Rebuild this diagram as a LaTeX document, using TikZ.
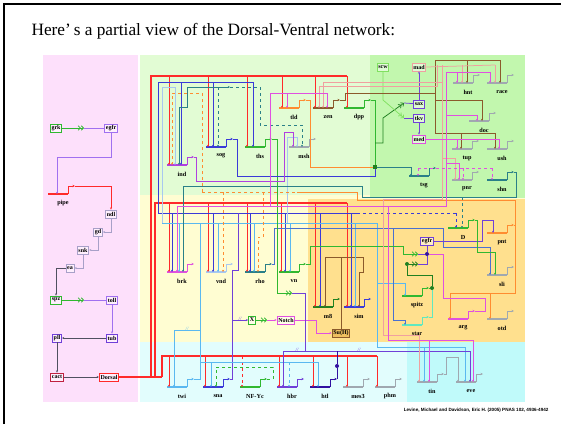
\documentclass[tikz,border=0pt]{standalone}
\usepackage{fontspec}
\setmainfont{Liberation Serif}
\newfontfamily\creditfont{Liberation Sans}
\usetikzlibrary{arrows.meta,calc}

\definecolor{bgpink}{HTML}{FDE0FB}
\definecolor{bglgreen}{HTML}{E2FCD4}
\definecolor{bgbgreen}{HTML}{C2F7AE}
\definecolor{bgyellow}{HTML}{FFFDD2}
\definecolor{bgorange}{HTML}{FFE08E}
\definecolor{bgcyan}{HTML}{E2FDFD}
\definecolor{bgdcyan}{HTML}{C0FAFA}
\definecolor{dvred}{HTML}{FF2A2A}
\definecolor{dvcrim}{HTML}{C02040}
\definecolor{dvblue}{HTML}{3A3AD8}
\definecolor{dvlblue}{HTML}{5AB8F0}
\definecolor{dvpale}{HTML}{A8C8F0}
\definecolor{dvteal}{HTML}{2A8088}
\definecolor{dvsteel}{HTML}{4A70D0}
\definecolor{dvgreen}{HTML}{30B830}
\definecolor{dvdgreen}{HTML}{208020}
\definecolor{dvlgreen}{HTML}{80E060}
\definecolor{dvmag}{HTML}{E050E0}
\definecolor{dvviol}{HTML}{B040E0}
\definecolor{dvpurp}{HTML}{7040D8}
\definecolor{dvtoll}{HTML}{A070F0}
\definecolor{dvorange}{HTML}{FF8C30}
\definecolor{dvbrown}{HTML}{8B5A2B}
\definecolor{dvgrey}{HTML}{A0A8B0}
\definecolor{dvlav}{HTML}{A8A0C8}
\definecolor{dvdark}{HTML}{505060}
\definecolor{dvsalmon}{HTML}{F0A0A0}
\definecolor{dvaqua}{HTML}{60E8C0}
\definecolor{dvnavy}{HTML}{3010A0}
\definecolor{dvsuh}{HTML}{F0C060}

% a gene: bar, bent output arrow, label
\newcommand\gene[5]{%
  \draw[genebar,#4] (#2,#3) coordinate (#1-w) -- ++(20,0) coordinate (#1-e);
  \draw[geneout,#4] (#1-e) -- ++(0,-8) -- ++(7,0) coordinate (#1-o);
  \node[genelbl] (#1) at ($(#1-w)+(15,9)$) {#5};
}
% an input dropping from a line onto a gene bar
\newcommand\drop[4]{\draw[inp,#1] (#2,#3) -- (#2,0 |- #4-w);}

\begin{document}
\begin{tikzpicture}[x=1pt,y=-1pt,
  genebar/.style={line width=1.4pt},
  geneout/.style={line width=0.8pt,-{Stealth[length=2.6pt,width=2.4pt]}},
  wire/.style={line width=0.75pt},
  inp/.style={wire,-{Stealth[length=2.2pt,width=2pt]}},
  trunk/.style={line width=1.2pt,dvred},
  genelbl/.style={font=\fontsize{6.2}{6.2}\selectfont\bfseries,inner sep=0pt},
  genebox/.style={draw,line width=0.9pt,font=\fontsize{6}{6}\selectfont\bfseries,
    inner sep=1.2pt,minimum height=8pt,fill=white,fill opacity=0.5,text opacity=1},
  chev/.style={-{Straight Barb[length=2.2pt,width=4.5pt] Straight Barb[length=2.2pt,width=4.5pt]}},
  junction/.style={circle,fill,inner sep=0pt,minimum size=4pt},
  brk/.style={font=\fontsize{5}{5}\selectfont\itshape,inner sep=0pt}
]
\useasboundingbox (0,0) rectangle (561,424);

% backgrounds
\fill[bgpink] (43,55) rectangle (138,402);
\fill[bglgreen] (140,55) rectangle (370,195);
\fill[bgyellow] (140,195) rectangle (525,342);
\fill[bgorange] (308,199) rectangle (525,342);
\fill[bgbgreen] (370,55) rectangle (525,198);
\fill[bgcyan] (140,342) rectangle (407,402);
\fill[bgdcyan] (407,342) rectangle (525,402);
\draw[line width=1.6pt] (4,424) -- (4,4) -- (561,4);

\node[anchor=base west,font=\fontsize{17.3}{17.3}\selectfont] (title) at (28,35)
  {Here’\,s a partial view of the Dorsal-Ventral network:};
\node[anchor=east,font=\creditfont\bfseries\fontsize{4.6}{4.6}\selectfont] (credit) at (552,410)
  {Levine, Michael and Davidson, Eric H. (2005) PNAS 102, 4936-4942};

% boxes
\node[genebox,draw=dvgreen] (grk) at (56,128) {grk};
\node[genebox,draw=dvtoll] (egfrA) at (111,128) {egfr};
\node[genebox,draw=dvlav] (ndl) at (111,214) {ndl};
\node[genebox,draw=dvlav] (gd) at (98,232) {gd};
\node[genebox,draw=dvlav] (snk) at (83,250) {snk};
\node[genebox,draw=dvlav] (ea) at (70,268) {ea};
\node[genebox,draw=dvgreen] (spz) at (56,300) {spz};
\node[genebox,draw=dvtoll] (toll) at (112,300) {toll};
\node[genebox,draw=dvpurp] (tub) at (112,338) {tub};
\node[genebox,draw=dvpurp] (pll) at (57,338) {pll};
\node[genebox,draw=dvcrim] (cact) at (57,377) {cact};
\node[genebox,draw=dvred] (Dorsal) at (109,377) {Dorsal};
\node[genebox,draw=dvlgreen] (scw) at (383,67) {scw};
\node[genebox,draw=dvsalmon] (mad) at (419,67) {mad};
\node[genebox,draw=dvpurp] (sax) at (419,104) {sax};
\node[genebox,draw=dvpurp] (tkv) at (419,118) {tkv};
\node[genebox,draw=dvmag] (med) at (419,139) {med};
\node[genebox,draw=dvpurp] (egfrB) at (427,241) {egfr};
\node[genebox,draw=dvgreen] (X) at (252,320) {X};
\node[genebox,draw=dvmag] (Notch) at (286,320) {Notch};
\node[genebox,draw=dvbrown,fill=dvsuh,fill opacity=1] (SuH) at (341,333) {Su(H)};

% genes
\gene{pipe}{48}{194}{dvred}{pipe}
\gene{ind}{167}{165}{dvviol}{ind}
\gene{sog}{206}{147}{dvblue}{sog}
\gene{ths}{245}{147}{dvgreen}{ths}
\gene{msh}{289}{147}{dvgrey}{msh}
\gene{tld}{279}{108}{dvorange}{tld}
\gene{zen}{313}{108}{dvbrown}{zen}
\gene{dpp}{344}{108}{dvgreen}{dpp}
\gene{hnt}{453}{83}{dvgrey}{hnt}
\gene{race}{487}{83}{dvgrey}{race}
\gene{doc}{469}{121}{dvgrey}{doc}
\gene{tup}{452}{149}{dvgrey}{tup}
\gene{ush}{487}{149}{dvgrey}{ush}
\gene{tsg}{409}{176}{dvteal}{tsg}
\gene{pnr}{452}{180}{dvgrey}{pnr}
\gene{shn}{487}{180}{dvteal}{shn}
\gene{brk}{167}{272}{dvmag}{brk}
\gene{vnd}{206}{272}{dvpale}{vnd}
\gene{rho}{245}{272}{dvteal}{rho}
\gene{vn}{279}{272}{dvgreen}{vn}
\gene{m8}{313}{307}{dvdgreen}{m8}
\gene{sim}{344}{307}{dvblue}{sim}
\gene{D}{448}{228}{dvgreen}{D}
\gene{pnt}{487}{233}{dvorange}{pnt}
\gene{sli}{487}{275}{dvgrey}{sli}
\gene{spitz}{402}{296}{dvgreen}{spitz}
\gene{star}{402}{325}{dvaqua}{star}
\gene{arg}{448}{319}{dvmag}{arg}
\gene{otd}{487}{319}{dvgrey}{otd}
\gene{twi}{167}{387}{dvlblue}{twi}
\gene{sna}{203}{387}{dvblue}{sna}
\gene{NFYc}{240}{387}{dvgreen}{NF-Yc}
\gene{hbr}{277}{387}{dvpurp}{hbr}
\gene{htl}{310}{387}{dvnavy}{htl}
\gene{mes3}{343}{387}{dvgrey}{mes3}
\gene{phm}{375}{387}{dvgrey}{phm}
\gene{tin}{417}{382}{dvgrey}{tin}
\gene{eve}{456}{382}{dvgrey}{eve}

% junctions
\node[junction,rectangle,dvdgreen] (dotA) at (375,167) {};
\node[junction,dvnavy] (dotB) at (427,254) {};
\node[junction,dvdgreen] (dot1) at (407,264) {};
\node[junction,dvdgreen] (dot2) at (432,288) {};
\node[junction,dvnavy] (dotC) at (337,366) {};

% maternal cascade
\coordinate (grkchev) at (84,128);
\draw[wire,dvgreen,chev] (grk) -- (grkchev);
\draw[wire,dvtoll] (grkchev) -- (egfrA);
\draw[inp,dvtoll] (egfrA) -- (111,157) -- (57,157) -- (57,0 |- pipe-w);
\draw[inp,dvred] (pipe-o) -| (ndl.north);
\draw[inp,dvlav] (ndl.south) |- (gd.east);
\draw[inp,dvlav] (gd.south) |- (snk.east);
\draw[inp,dvlav] (snk.south) |- (ea.east);
\draw[inp,dvdark] (ea.west) -| (spz.north);
\coordinate (spzchev) at (84,300);
\draw[wire,dvgreen,chev] (spz) -- (spzchev);
\draw[wire,dvtoll] (spzchev) -- (toll);
\draw[inp,dvtoll] (toll) -- (tub);
\draw[inp,dvdark] (tub) -- (pll);
\draw[inp,dvdark] (pll) -- (cact);
\draw[inp,dvdark] (cact) -- (Dorsal);

% Dorsal inputs
\draw[trunk] (Dorsal.east) -- (162,377);
\draw[trunk] (151,377) -- (151,76) -- (347,76);
\draw[trunk] (155,377) -- (155,203) -- (347,203);
\draw[trunk] (162,377) -- (162,356) -- (377,356);
\foreach \x/\g in {169/ind,208/sog,247/ths,282/tld,315/zen,347/dpp} {\drop{dvred}{\x}{76}{\g}}
\foreach \x/\g in {169/brk,208/vnd,247/rho,281/vn,315/m8,347/sim} {\drop{dvred}{\x}{203}{\g}}
\foreach \x/\g in {169/twi,205/sna,279/hbr,313/htl,347/mes3,377/phm} {\drop{dvred}{\x}{356}{\g}}
\drop{dvred,dashed}{242}{356}{NFYc}

% sna
\draw[wire,dvblue] (158,213) -- (158,82) -- (253,82);
\foreach \x/\g in {181/ind,213/sog,253/ths} {\drop{dvblue}{\x}{82}{\g}}
\draw[wire,dvblue] (158,213) -- (357,213);
\draw[wire,dvblue,dashed] (357,213) -- (456,213);
\drop{dvblue,dashed}{456}{213}{D}
\foreach \x/\g in {172/brk,213/vnd,250/rho,285/vn,320/m8,351/sim} {\drop{dvblue}{\x}{213}{\g}}
\draw[wire,dvpurp] (sna-o) -- (232,379) -- (232,270) -- (238,270) -- (238,213);
\draw[inp,dvpurp] (232,320) -- (X);
\node[brk,text=dvpurp] (brkX) at (240,319) {//};

% Notch pathway
\coordinate (Xchev) at (267,320);
\draw[wire,dvgreen,chev] (X) -- (Xchev);
\draw[inp,dvmag] (Xchev) -- (Notch);
\draw[inp,dvmag] (Notch.east) -- (316,320) -- (316,333) -- (SuH.west);
\draw[wire,dvbrown] (SuH.north) -- (341,257);
\draw[wire,dvbrown] (325,257) -- (363,257);
\drop{dvbrown}{325}{257}{m8}
\draw[inp,dvbrown] (363,257) -- (363,272) -- (359,272) -- (359,0 |- sim-w);

% twi
\draw[wire,dvlblue] (twi-o) -- (200,379) -- (200,223);
\draw[wire,dvpale] (162,223) -- (162,87) -- (175,87);
\drop{dvpale}{175}{87}{ind}
\draw[wire,dvlblue] (162,223) -- (377,223) -- (377,347) -- (465,347);
\foreach \x/\g in {179/brk,218/vnd,254/rho,290/vn,355/sim} {\drop{dvlblue}{\x}{223}{\g}}
\draw[inp,dvpale] (287,223) -- (287,137) -- (297,137) -- (297,0 |- msh-w);
\draw[inp,dvlblue] (200,330) -- (174,330) -- (174,0 |- twi-w);
\node[brk,text=dvlblue] (brkT) at (187,329) {//};
\draw[wire,dvlblue] (200,362) -- (318,362);
\foreach \x/\g in {211/sna,318/htl} {\drop{dvlblue}{\x}{362}{\g}}
\drop{dvlblue,dashed}{289}{362}{hbr}
\foreach \x/\g in {424/tin,465/eve} {\drop{dvlblue}{\x}{347}{\g}}
\draw[inp,dvlblue] (377,283) -- (405,283) -- (405,0 |- spitz-w);

% teal
\draw[inp,dvteal] (187,87) -- (230,87);
\draw[inp,dvteal] (187,87) -- (187,107) -- (179,107) -- (179,0 |- ind-w);
\draw[inp,dvteal,dashed] (230,87) -- (260,87) -- (260,125) -- (302,125) -- (302,0 |- msh-w);
\drop{dvteal,dashed}{218}{87}{sog}
\draw[inp,dvteal] (shn-o) -- (516,172) -- (516,197) -- (362,197) -- (362,186) -- (183,186) -- (183,0 |- brk-w);
\drop{dvteal,dashed}{462}{197}{D}
\draw[inp,dvsteel] (rho-o) -- (274,264) -- (274,228) -- (443,228) -- (443,247) -- (490,247) -- (490,0 |- sli-w);
\draw[inp,dvsteel] (393,228) -- (393,320) -- (405,320) -- (405,0 |- star-w);

% orange
\draw[inp,dvorange,dashed] (202,192) -- (202,93) -- (172,93) -- (172,0 |- ind-w);
\draw[wire,dvorange,dashed] (202,192) -- (297,192);
\drop{dvorange,dashed}{223}{192}{vnd}
\draw[inp,dvorange,dashed] (263,192) -- (263,237) -- (258,237) -- (258,0 |- rho-w);
\draw[wire,dvorange] (pnt-o) -- (515,225) -- (515,200) -- (357,200) -- (357,192) -- (297,192);
\draw[wire,dvorange] (515,225) -- (515,293) -- (450,293);
\drop{dvorange}{450}{293}{arg}
\drop{dvorange}{490}{293}{otd}
\draw[wire,dvorange] (tld-o) -- (310,100) -- (310,167) -- (dotA);

% ths, vn, egfr
\coordinate (vnchev) at (292,293);
\draw[wire,dvgreen,chev] (ths-o) -- (277,139) -- (277,293) -- (vnchev);
\draw[wire,dvpurp] (vnchev) -- (305,293) -- (305,351);
\draw[wire,dvpurp] (283,351) -- (470,351);
\drop{dvpurp}{283}{351}{hbr}
\drop{dvpurp}{470}{351}{eve}
\node[brk,text=dvpurp] (brkH1) at (297,350) {//};
\node[brk,text=dvpurp] (brkH2) at (359,350) {//};
\draw[wire,dvnavy] (htl-o) -- (337,379) -- (dotC) -- (337,351);
\coordinate (egchev) at (418,254);
\draw[wire,dvgreen,chev] (vn-o) -- (310,264) -- (310,246) -- (403,246) -- (403,254) -- (egchev);
\draw[wire,dvpurp] (egchev) -- (dotB);
\draw[wire,dvpurp] (egfrB) -- (dotB);
\coordinate (spchev) at (418,264);
\draw[wire,dvdgreen,chev] (dot1) -- (spchev);
\draw[wire,dvpurp] (spchev) -- (427,264) -- (dotB);
\draw[wire,dvdgreen] (dot1) -- (407,275) -- (432,275) -- (dot2);
\draw[wire,dvgreen] (spitz-o) -- (dot2);
\draw[wire,dvaqua] (star-o) -- (432,317) -- (dot2);
\draw[inp,dvpurp] (egfrB.east) -- (482,241) -- (482,220) -- (493,220) -- (493,0 |- pnt-w);
\draw[wire,dvmag] (dotB) -- (443,254) -- (443,298) -- (485,298) -- (485,311) -- (arg-o);
\draw[inp,dvgreen] (D-o) -- (477,220) -- (477,252) -- (495,252) -- (495,0 |- sli-w);

% dpp / sog / tld complex
\draw[wire,dvblue] (sog-o) -- (237,139) -- (237,176) -- (375,176) -- (dotA);
\draw[wire,dvgreen] (dpp-o) -- (375,100) -- (dotA);
\draw[inp,dvteal] (dotA) -- (411,167) -- (411,0 |- tsg-w);
\coordinate (saxchev) at (404,103);
\coordinate (tkvchev) at (404,118);
\draw[wire,dvdgreen,chev] (375,143) -- (383,143) -- (383,118) -- (saxchev);
\draw[wire,dvlgreen,chev] (scw) -- (383,100) -- (tkvchev);
\draw[wire,dvpurp] (saxchev) -- (sax);
\draw[wire,dvpurp] (tkvchev) -- (tkv);
\draw[inp,dvpurp] (sax) -- (mad);
\draw[inp,dvpurp] (tkv) -- (med);

% ind
\draw[inp,dvviol] (ind-o) -- (196,157) -- (196,181) -- (284,181) -- (284,132) -- (293,132) -- (293,0 |- msh-w);

% zen
\draw[wire,dvbrown] (zen-o) -- (345,100) -- (345,93) -- (435,93);
\draw[wire,dvbrown] (435,60) -- (435,133);
\draw[wire,dvbrown] (435,60) -- (500,60);
\draw[wire,dvbrown] (435,100) -- (482,100);
\draw[wire,dvbrown] (435,133) -- (495,133);
\foreach \x/\y/\g in {467/60/hnt,500/60/race,482/100/doc,461/133/tup,495/133/ush} {\drop{dvbrown}{\x}{\y}{\g}}

% mad
\draw[wire,dvsalmon] (mad.east) -- (495,65);
\foreach \x/\g in {462/hnt,495/race} {\drop{dvsalmon}{\x}{65}{\g}}
\draw[inp,dvsalmon] (437,65) -- (437,86) -- (319,86) -- (319,0 |- zen-w);
\draw[inp,dvsalmon] (442,65) -- (442,82) -- (323,82) -- (323,0 |- zen-w);
\draw[inp,dvsalmon] (442,82) -- (442,158) -- (455,158) -- (455,0 |- pnr-w);
\draw[inp,dvsalmon] (442,158) -- (442,199) -- (383,199) -- (383,335) -- (419,335) -- (419,0 |- tin-w);

% magenta
\draw[wire,dvmag] (446,72) -- (446,206) -- (177,206);
\drop{dvmag}{177}{206}{brk}
\draw[wire,dvmag] (446,72) -- (490,72);
\foreach \x/\g in {457/hnt,490/race} {\drop{dvmag}{\x}{72}{\g}}
\draw[inp,dvmag] (446,115) -- (477,115) -- (477,0 |- doc-w);
\draw[inp,dvmag] (446,163) -- (459,163) -- (459,0 |- pnr-w);
\draw[wire,dvmag] (270,206) -- (270,93) -- (327,93);
\foreach \x/\g in {287/tld,327/zen} {\drop{dvmag}{\x}{93}{\g}}
\draw[wire,dvmag] (388,206) -- (388,340) -- (473,340);
\foreach \x/\g in {429/tin,473/eve} {\drop{dvmag}{\x}{340}{\g}}
\draw[wire,dvmag] (med.east) -- (499,139);
\foreach \x/\g in {457/tup,499/ush} {\drop{dvmag}{\x}{139}{\g}}
\draw[wire,dvmag,dashed] (418,168) -- (492,168);
\foreach \x/\g in {418/tsg,463/pnr,492/shn} {\drop{dvmag,dashed}{\x}{168}{\g}}

% NF-Yc, tin
\draw[inp,dvgreen,dashed] (NFYc-o) -- (273,379) -- (273,367) -- (216,367) -- (216,0 |- sna-w);
\draw[inp,dvgrey] (tin-o) -- (446,374) -- (446,357) -- (458,357) -- (458,0 |- eve-w);
\end{tikzpicture}
\end{document}
